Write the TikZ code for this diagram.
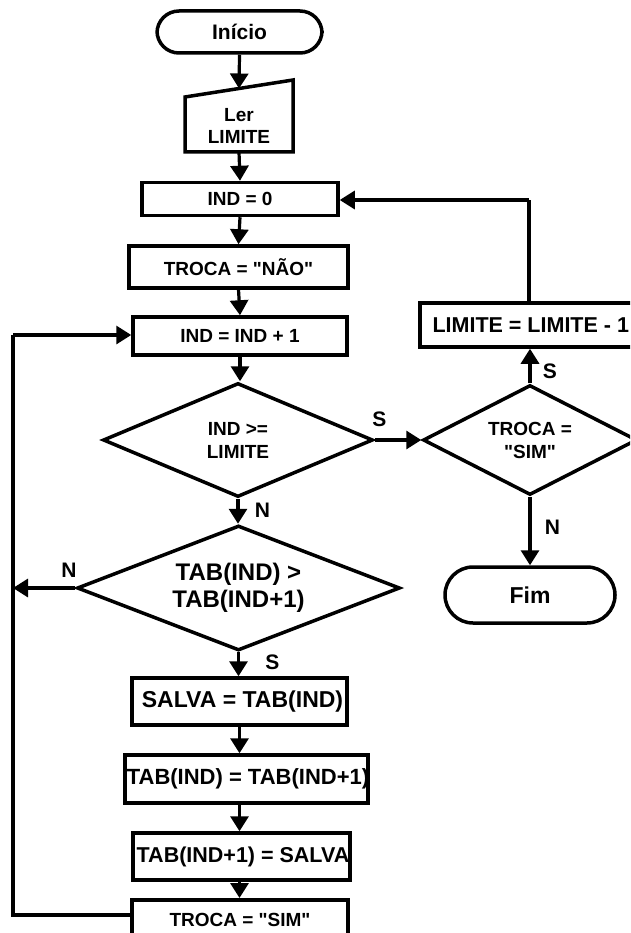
\documentclass[tikz,border=0pt]{standalone}
\usepackage{fontspec}
\setmainfont{Liberation Sans}[Ligatures=TeXOff]
\usetikzlibrary{shapes.geometric,arrows.meta}
\begin{document}
\begin{tikzpicture}[x=1pt,y=-1pt,
  box/.style={draw,line width=3.5pt,rectangle,inner sep=0pt,font=\bfseries\fontsize{19}{21}\selectfont,align=center},
  bigbox/.style={box,font=\bfseries\fontsize{23}{26}\selectfont},
  term/.style={box,rounded corners=22pt},
  dec/.style={draw,line width=3.5pt,diamond,inner sep=0pt,aspect=2.3,font=\bfseries\fontsize{19}{23}\selectfont,align=center},
  conn/.style={line width=3.2pt,-{Triangle[length=15pt,width=18pt]}},
  plain/.style={line width=3.2pt},
  lab/.style={font=\bfseries\fontsize{21}{23}\selectfont}]
\useasboundingbox (0,0) rectangle (630,933);
\clip (0,0) rectangle (630,933);
\fill[white] (0,0) rectangle (630,933);
% nodes
\node[term,minimum width=165pt,minimum height=42pt,font=\bfseries\fontsize{21}{23}\selectfont] (ini) at (239.5,32) {Início};
\node[inner sep=0pt,font=\bfseries\fontsize{19}{21}\selectfont,align=center] (ler) at (239,126) {Ler\\[1pt]LIMITE};
\draw[line width=3.5pt,line join=miter] (185,97) -- (293,80) -- (293,152) -- (185,152) -- cycle;
\coordinate (lertop) at (239,88.5);
\coordinate (lerbot) at (239,152);
\node[box,minimum width=196pt,minimum height=33pt] (ind0) at (240,199) {IND = 0};
\node[box,minimum width=219pt,minimum height=42pt] (tnao) at (238.5,267) {TROCA = "NÃO"};
\node[box,minimum width=214pt,minimum height=38pt] (inc) at (240,336) {IND = IND + 1};
\node[dec,minimum width=270pt,minimum height=114pt] (d1) at (238,440) {IND >=\\LIMITE};
\node[dec,minimum width=323pt,minimum height=125pt,font=\bfseries\fontsize{24}{27}\selectfont] (d2) at (238.5,588) {TAB(IND) >\\TAB(IND+1)};
\node[bigbox,minimum width=215pt,minimum height=47pt] (salva) at (239.5,701.5) {\makebox[0pt]{\hspace*{6pt}SALVA = TAB(IND)}};
\node[bigbox,minimum width=243pt,minimum height=48pt,font=\bfseries\fontsize{22}{25}\selectfont] (tab1) at (246.5,779) {\makebox[0pt]{\hspace*{3pt}TAB(IND) = TAB(IND+1)}};
\node[bigbox,minimum width=217pt,minimum height=47pt,font=\bfseries\fontsize{21.5}{25}\selectfont] (tab2) at (241.5,856.5) {\makebox[0pt]{\hspace*{3pt}TAB(IND+1) = SALVA}};
\node[box,minimum width=216pt,minimum height=40pt,anchor=north] (tsim) at (240,898) {\raisebox{-2pt}{TROCA = "SIM"}};
\node[bigbox,minimum width=244pt,minimum height=44pt,anchor=west,font=\bfseries\fontsize{21.5}{25}\selectfont] (lim) at (418,325) {\makebox[0pt]{\hspace*{-22pt}LIMITE = LIMITE - 1}};
\node[dec,minimum width=214pt,minimum height=110pt] (d3) at (530,440) {TROCA =\\"SIM"};
\node[term,minimum width=170pt,minimum height=56pt,rounded corners=28pt,font=\bfseries\fontsize{23}{26}\selectfont] (fim) at (530,595) {Fim};
% loop corners
\coordinate (cl1) at (13,915);
\coordinate (cl2) at (13,335);
\coordinate (cl3) at (13,588);
\coordinate (cr1) at (529,200);
% connectors
\draw[conn] (ini.south) -- (lertop);
\draw[conn] (lerbot) -- (ind0.north);
\draw[conn] (ind0.south) -- (tnao.north);
\draw[conn] (tnao.south) -- (inc.north);
\draw[conn] (inc.south) -- (inc.south |- d1.north);
\draw[conn] (d1.south) -- (d1.south |- d2.north) node[lab,pos=0.45,right=12pt] {N};
\draw[conn] (d2.south) -- (d2.south |- salva.north) node[lab,pos=0.4,right=22pt] {S};
\draw[conn] (salva.south) -- (salva.south |- tab1.north);
\draw[conn] (salva.south |- tab1.south) -- (salva.south |- tab2.north);
\draw[conn] (salva.south |- tab2.south) -- (salva.south |- tsim.north);
\draw[plain] (tsim.west |- cl1) -- (cl1) -- (cl2);
\draw[conn] (cl2) -- (inc.west |- cl2);
\draw[conn] (d2.west) -- (cl3) node[lab,pos=0.1,above=6pt] {N};
\draw[conn] (d1.east) -- (d3.west) node[lab,pos=0.1,above=8pt] {S};
\draw[conn] (d3.north) -- (d3.north |- lim.south) node[lab,pos=0.35,right=8pt] {S};
\draw[conn] (d3.south) -- (d3.south |- fim.north) node[lab,pos=0.45,right=10pt] {N};
\draw[plain] (cr1 |- lim.north) -- (cr1);
\draw[conn] (cr1) -- (ind0.east |- cr1);
\end{tikzpicture}
\end{document}
